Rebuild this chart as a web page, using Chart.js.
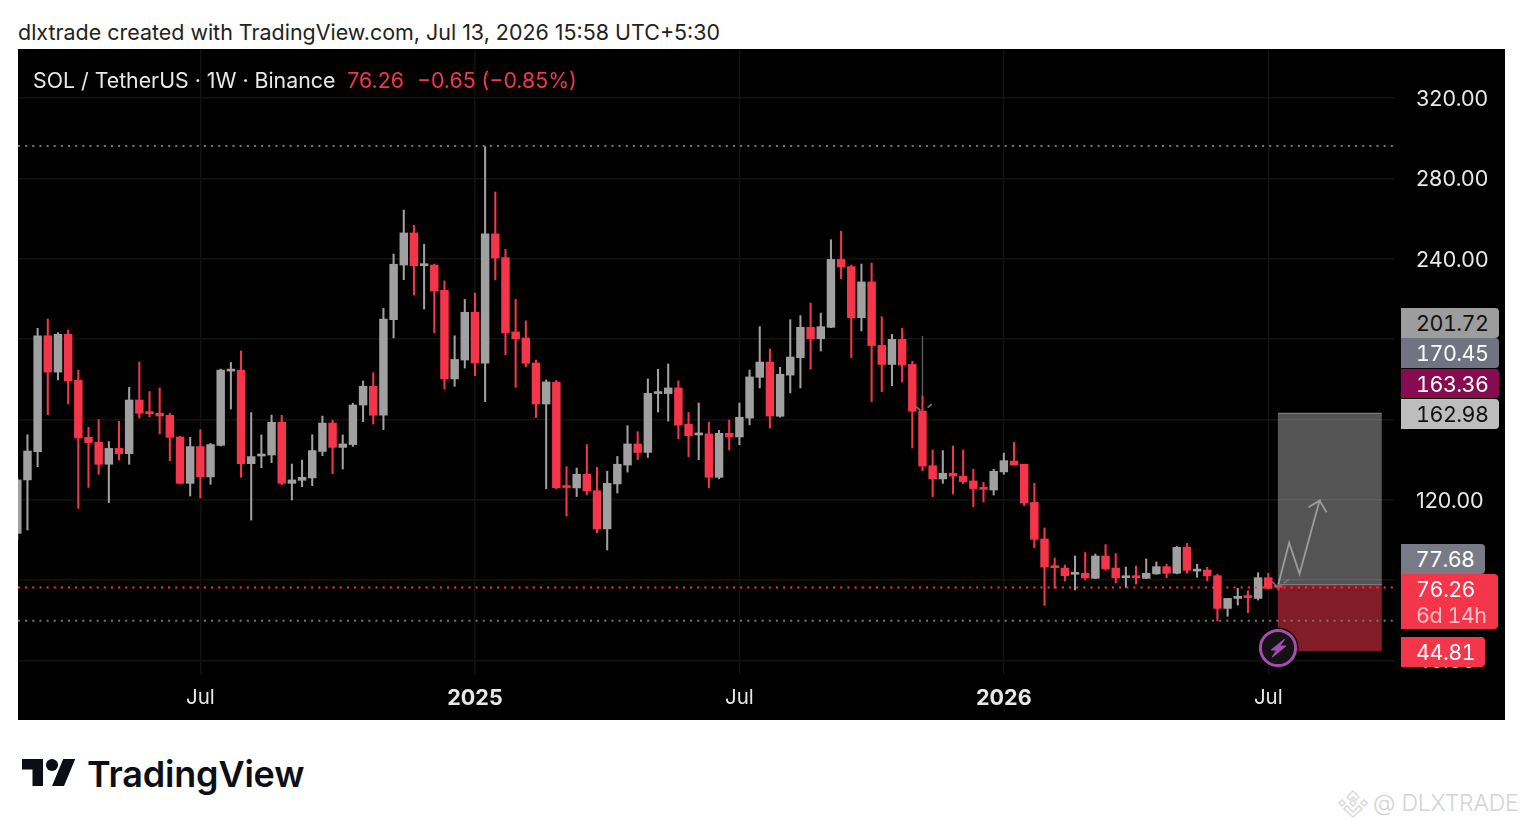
<!DOCTYPE html>
<html>
<head>
<meta charset="utf-8">
<title>SOL / TetherUS 1W</title>
<script src="https://cdn.jsdelivr.net/npm/chart.js@4/dist/chart.umd.min.js"></script>
<style>
html, body { margin: 0; padding: 0; background: #fff; overflow: hidden; width: 1524px; height: 828px; font-family: Inter, sans-serif; }
.abs { position: absolute; white-space: nowrap; }
#stamp { left: 18px; top: 18px; font-size: 21.45px; line-height: 28px; color: #222; }
#panel { left: 18px; top: 49px; width: 1487px; height: 671px; background: #000; }
#legend { left: 33px; top: 65px; font-size: 21.3px; line-height: 30px; color: #e8e8e8; }
#legend span { color: #f5364a; margin-left: 12px; }
.tag { position: absolute; left: 1400.5px; width: 98px; height: 30px; line-height: 30px; font-size: 21.5px; letter-spacing: -0.5px; box-sizing: border-box; padding-left: 15.5px; border-radius: 0 4px 4px 0; color: #fff; font-feature-settings: 'tnum'; }
#brand { left: 87px; top: 752px; font-size: 36px; line-height: 44px; font-weight: 600; color: #0c0e15; letter-spacing: -0.2px; }
#mark { left: 1373px; top: 788px; font-size: 23px; line-height: 30px; font-weight: 300; letter-spacing: -0.2px; color: #d4d4d4; }
</style>
</head>
<body>
<div id="stamp" class="abs">dlxtrade created with TradingView.com, Jul 13, 2026 15:58 UTC+5:30</div>
<div id="panel" class="abs"><canvas id="myChart" width="1487" height="671"></canvas></div>
<div id="legend" class="abs">SOL / TetherUS · 1W · Binance<span>76.26</span><span style="margin-left:13px">−0.65 (−0.85%)</span></div>

<div class="tag" style="top:308px;background:#9d9d9d;color:#111">201.72</div>
<div class="tag" style="top:338px;background:#6f7480">170.45</div>
<div class="tag" style="top:369px;height:29px;background:#870c4f">163.36</div>
<div class="tag" style="top:399px;background:#bdbdbd;color:#111">162.98</div>
<div class="tag" style="top:543.5px;width:84px;background:#787b86;padding-left:15px">77.68</div>
<div class="tag" style="top:574px;width:97px;height:55px;background:#f5364a;padding-left:15.5px;line-height:26px;padding-top:2px">76.26<br><span style="color:#fbc0c6">6d 14h</span></div>
<div class="tag" style="top:637px;width:84px;background:#f5364a;padding-left:15.5px">44.81</div>

<svg class="abs" style="left:1257px;top:627px" width="42" height="42" viewBox="-21 -21 42 42">
  <circle r="20.5" fill="#000"/>
  <circle r="17.6" fill="#131313" stroke="#a84bb0" stroke-width="3"/>
  <path d="M6.5 -8.5 L-6.5 2 L-1 2 L-5.5 8.8 L7.5 -2 L1.5 -2 Z" fill="#a84bb0" stroke="#a84bb0" stroke-width="1.2" stroke-linejoin="round"/>
</svg>

<svg class="abs" style="left:22px;top:753px" width="54" height="42" viewBox="0 0 36 28">
  <path d="M14 22H7V11H0V4h14v18zM28 22h-8l7.5-18h8L28 22z" fill="#0c0e15"/>
  <circle cx="20" cy="8" r="4" fill="#0c0e15"/>
</svg>
<div id="brand" class="abs">TradingView</div>

<svg class="abs" style="left:1338px;top:788px" width="30" height="30" viewBox="0 0 30 30" fill="none" stroke="#dcdcdc" stroke-width="1.6">
  <path d="M15 3 L21 9 L18 12 L15 9 L12 12 L9 9 Z"/>
  <path d="M4 12 L7 15 L4 18 L1 15 Z"/>
  <path d="M26 12 L29 15 L26 18 L23 15 Z"/>
  <path d="M15 12 L18 15 L15 18 L12 15 Z"/>
  <path d="M9 18 L15 24 L21 18 L24 21 L15 29 L6 21 Z"/>
</svg>
<div id="mark" class="abs">@ DLXTRADE</div>

<script>
// weekly candles, first week is 26 Feb 2024
var firstWeek = Date.UTC(2024, 1, 26);
var weekCount = 125;

var opens = [
  103.2,129.8,143.9,201.6,183.5,202.3,179.4,151.0,148.5,137.6,
  145.5,142.9,169.6,163.5,163.0,162.0,151.2,128.1,146.4,131.3,
  147.0,184.0,184.5,137.9,141.7,142.2,158.5,128.1,129.6,130.8,
  144.0,158.1,146.0,147.4,167.1,176.4,162.0,209.6,236.8,252.8,
  236.5,236.8,224.2,180.1,189.5,213.3,188.0,252.3,240.5,203.5,
  200.5,188.0,167.6,178.4,126.6,125.8,132.6,124.4,105.4,127.8,
  137.2,147.7,143.5,172.8,172.8,175.6,157.5,152.2,152.7,131.1,
  153.0,151.2,160.6,180.9,188.5,161.5,182.0,190.7,205.8,200.1,
  205.8,239.6,236.0,210.6,228.4,196.8,187.3,199.8,187.3,164.1,
  136.9,130.3,133.1,131.7,129.3,126.0,124.8,133.8,139.2,137.6,
  118.6,100.4,86.9,85.9,82.8,83.3,80.8,91.9,85.9,81.1,
  81.8,80.8,83.0,86.6,83.3,96.2,84.4,84.9,82.1,65.8,
  70.8,71.8,70.8,81.1,76.91
];
var closes = [
  129.8,144.2,201.6,183.5,202.3,179.1,150.7,148.4,137.6,145.5,
  142.9,169.6,163.0,162.8,161.6,151.0,128.1,146.4,131.3,147.4,
  184.5,185.0,137.9,141.4,142.7,158.5,128.1,129.8,131.1,144.4,
  158.1,146.0,147.7,167.1,176.4,162.0,209.9,237.2,252.8,236.5,
  237.3,223.9,180.1,189.8,213.3,188.0,252.3,240.3,203.1,200.1,
  187.9,167.6,178.6,126.0,126.0,132.6,124.3,105.4,128.1,137.6,
  147.7,143.5,172.9,173.6,175.6,157.1,151.8,153.2,131.1,153.0,
  151.2,161.0,181.1,188.5,161.6,182.4,191.0,205.8,200.1,206.1,
  239.6,235.8,210.6,228.4,196.7,187.3,199.8,187.0,164.0,136.7,
  130.3,133.1,131.7,128.9,125.5,125.1,134.1,139.4,137.2,118.3,
  100.2,86.4,86.1,82.1,83.5,81.0,91.9,85.6,81.0,81.8,
  81.1,83.3,86.6,83.3,96.2,84.8,85.1,82.0,65.8,70.8,
  71.8,71.2,81.1,75.8,76.26
];
var highs = [
  131.0,152.3,205.3,209.9,203.1,204.5,184.5,156.0,159.8,148.9,
  159.0,175.9,188.5,173.8,175.6,163.0,151.5,151.0,154.8,148.0,
  185.0,188.3,194.0,163.3,152.2,162.1,162.0,137.7,139.7,152.3,
  161.6,159.6,152.2,168.0,179.1,183.2,215.3,242.3,264.2,256.6,
  247.1,237.3,228.9,201.6,219.7,222.9,295.8,273.2,244.6,219.7,
  209.0,189.5,179.6,179.4,136.4,135.7,147.4,136.1,134.1,141.5,
  156.8,153.8,180.1,184.9,187.6,179.1,163.4,168.1,158.6,154.5,
  159.6,168.1,184.5,206.1,195.0,185.9,209.6,211.6,217.9,212.9,
  249.4,253.6,236.8,237.3,237.8,211.1,202.3,205.3,188.9,171.6,
  144.7,144.4,146.7,144.7,135.1,128.6,135.1,143.2,148.5,137.6,
  128.1,105.9,90.9,87.4,91.9,93.6,92.9,97.6,93.1,86.4,
  86.9,90.4,88.9,87.8,96.7,98.2,87.8,86.3,82.8,70.8,
  75.8,74.6,83.6,83.3,78.0
];
var lows = [
  100.0,104.9,136.4,162.3,179.6,167.6,115.6,126.1,132.6,118.5,
  139.7,137.6,160.6,161.1,152.7,139.4,127.8,121.8,120.8,127.6,
  146.7,165.1,131.1,109.8,135.9,138.4,127.4,119.8,126.4,126.9,
  141.9,132.9,135.2,146.5,158.8,157.6,154.8,200.5,229.5,221.9,
  214.9,203.0,175.1,176.4,185.5,181.7,168.8,229.4,192.2,175.9,
  186.2,160.8,125.4,125.3,111.8,121.5,122.5,103.5,94.9,123.3,
  133.7,139.9,141.0,163.6,159.1,150.3,141.4,139.9,125.8,130.4,
  144.7,147.3,157.2,175.6,155.6,161.0,173.1,175.6,185.0,194.0,
  205.6,230.0,190.7,204.0,168.8,173.7,176.7,178.6,145.7,134.4,
  121.5,128.1,122.8,127.9,116.5,118.8,122.3,132.6,137.2,117.0,
  96.1,67.3,75.8,79.5,75.0,80.0,80.6,84.8,78.5,76.3,
  78.0,80.6,82.8,81.1,83.0,83.3,81.3,79.5,59.7,61.9,
  67.5,63.7,70.0,75.3,75.0
];

var priceTicks = [40, 80, 120, 160, 200, 240, 280, 320];
var timeTicks = [18, 45, 71, 97, 123];
var timeLabels = ['Jul', '2025', 'Jul', '2026', 'Jul'];

var lastPrice = 76.26;
var athLevel = 296.1;
var lowLevel = 59.7;

// long position tool
var entryPrice = 77.68;
var targetPrice = 162.98;
var stopPrice = 44.81;
var toolStart = 123.97;
var toolEnd = 134.13;

var pathWeeks = [124, 125.05, 126.07, 128.04, 126.95, 128.04, 128.73];
var pathPrices = [78, 98.5, 83, 119.5, 116.2, 119.5, 113.7];

var viewFrom = 0.07;
var viewTo = 135.46;

var up = '#a0a0a0';
var down = '#f5364a';

var weekDates = [];
for (var w = 0; w < weekCount; w++) {
  weekDates.push(new Date(firstWeek + w * 7 * 86400000).toISOString().slice(0, 10));
}

function candleColors() {
  return opens.map(function (o, i) { return closes[i] >= o ? up : down; });
}

function xy(xs, ys) {
  return xs.map(function (x, i) { return { x: x, y: ys[i] }; });
}

function level(price, color) {
  return {
    type: 'line', order: 2,
    data: xy([viewFrom, viewTo], [price, price]),
    borderColor: color, borderWidth: 2, borderDash: [2, 5.15], pointRadius: 0
  };
}

function stroke(xs, ys, color, width) {
  return {
    type: 'line', order: 1,
    data: xy(xs, ys),
    borderColor: color, borderWidth: width, pointRadius: 0, tension: 0
  };
}

function toolBar(from, to, color) {
  return {
    type: 'bar', order: 6, grouped: false,
    data: [{ x: (toolStart + toolEnd) / 2, y: [from, to] }],
    backgroundColor: color, barThickness: 103.3
  };
}

var ctx = document.getElementById('myChart');

Chart.defaults.font.family = 'Inter, sans-serif';

var myChart = new Chart(ctx, {
  type: 'bar',
  data: {
    datasets: [
      toolBar(entryPrice, targetPrice, 'rgba(255,255,255,0.33)'),
      toolBar(stopPrice, entryPrice, 'rgba(245,54,74,0.53)'),
      {
        label: 'wicks', order: 5, grouped: false,
        data: weekDates.map(function (d, i) { return { x: i, y: [lows[i], highs[i]] }; }),
        backgroundColor: candleColors(), barThickness: 1.4
      },
      {
        label: 'bodies', order: 4, grouped: false,
        data: weekDates.map(function (d, i) { return { x: i, y: [opens[i], closes[i]] }; }),
        backgroundColor: candleColors(), barThickness: 7.8, minBarLength: 2
      },
      level(athLevel, '#757575'),
      level(lowLevel, '#757575'),
      level(lastPrice, '#f5364a'),
      stroke([toolStart, toolEnd], [targetPrice, targetPrice], '#7a7a7a', 1.3),
      stroke([toolStart, toolEnd], [entryPrice, entryPrice], '#787b86', 1.3),
      stroke(pathWeeks, pathPrices, '#9c9c9c', 1.8),
      stroke([89, 89], [201.5, 171.6], '#5c5c5c', 1.4),
      stroke([88.4, 88.8], [166.3, 164.3], '#777', 1.6),
      stroke([89.5, 89.9], [165.8, 167.5], '#777', 1.6),
      stroke([123.4, 123.9], [79.1, 76.6], '#777', 1.6),
      stroke([124.5, 125], [78.3, 80.3], '#777', 1.6)
    ]
  },
  options: {
    responsive: false,
    animation: false,
    devicePixelRatio: 1,
    layout: { padding: 0 },
    plugins: { legend: { display: false }, tooltip: { enabled: false }, title: { display: false } },
    scales: {
      x: {
        type: 'linear', offset: false,
        min: viewFrom, max: viewTo,
        grid: { color: '#121212', lineWidth: 1.4, offset: false, drawTicks: false },
        border: { display: false },
        afterBuildTicks: function (s) { s.ticks = timeTicks.map(function (v) { return { value: v }; }); },
        afterFit: function (s) { s.height = 45; s.paddingLeft = 0; s.paddingRight = 0; },
        ticks: {
          autoSkip: false, maxRotation: 0, padding: 10.5, color: '#e8e8e8',
          font: function (c) {
            var l = timeLabels[timeTicks.indexOf(c.tick && c.tick.value)];
            return l && l.length == 4 ? { size: 21.5, weight: '700' } : { size: 20.5, weight: '400' };
          },
          callback: function (v) { return timeLabels[timeTicks.indexOf(v)]; }
        }
      },
      y: {
        type: 'linear', position: 'right',
        min: 32.65, max: 344.4,
        grid: { color: '#121212', lineWidth: 1.4, drawTicks: false },
        border: { display: false },
        afterBuildTicks: function (s) { s.ticks = priceTicks.map(function (v) { return { value: v }; }); },
        afterFit: function (s) { s.width = 110; s.paddingTop = 0; s.paddingBottom = 0; },
        ticks: {
          padding: 21, color: '#e8e8e8', font: { size: 21.5, lineHeight: 0.14 },
          // empty first line pushes the label down a little, like the reference
          callback: function (v) { return ['', v.toFixed(2)]; }
        }
      }
    }
  }
});
</script>
</body>
</html>
